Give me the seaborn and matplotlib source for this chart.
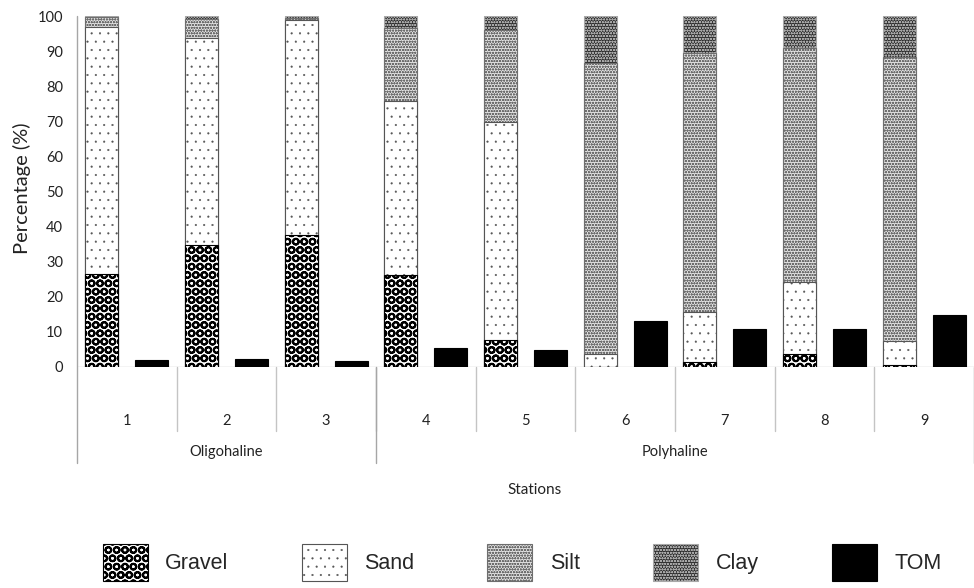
import matplotlib
matplotlib.use("Agg")
import matplotlib.pyplot as plt
import seaborn as sns
import pandas as pd
import numpy as np
from matplotlib.patches import Patch

# ---------------- data ----------------
stations = ["1", "2", "3", "4", "5", "6", "7", "8", "9"]
salinity = ["Oligohaline", "Oligohaline", "Oligohaline",
            "Polyhaline", "Polyhaline", "Polyhaline", "Polyhaline", "Polyhaline", "Polyhaline"]
gravel = [26.6, 34.7, 37.7, 26.1, 7.8, 0.0, 1.4, 3.6, 0.7]
sand = [70.2, 59.1, 61.3, 49.7, 62.0, 3.6, 14.3, 20.5, 6.6]
silt = [2.8, 5.3, 0.5, 20.9, 26.2, 83.1, 73.7, 66.7, 80.9]
clay = [0.4, 0.9, 0.5, 3.3, 4.0, 13.3, 10.6, 9.2, 11.8]
tom = [2.1, 2.4, 1.7, 5.5, 4.8, 13.0, 10.9, 10.9, 14.9]

sns.set_theme(style="white")
plt.rcParams['font.family'] = ['Lato', 'DejaVu Sans']

# fill / hatch / hatch colour / hatch width for each component
styles = {
    "Gravel": dict(fc="white", hatch="OO", ec="black", hlw=1.45),
    "Sand": dict(fc="white", hatch="..", ec="#555555", hlw=0.3),
    "Silt": dict(fc="#e2e2e2", hatch="oooooo", ec="#6e6e6e", hlw=0.6),
    "Clay": dict(fc="#2e2e2e", hatch="oooooo", ec="#a8a8a8", hlw=0.6),
    "TOM": dict(fc="black", hatch=None, ec="black", hlw=1.0),
}

fig = plt.figure(figsize=(9.74, 5.88), dpi=100)
ax = fig.add_axes([77 / 974, 1 - 367 / 588, 897 / 974, 351 / 588])

hue_order = ["Sediment", "TOM"]


def draw_layer(values, kind, name):
    st = styles[name]
    plt.rcParams['hatch.linewidth'] = st["hlw"]
    n_before = len(ax.patches)
    sns.barplot(x=stations, y=values, hue=[kind] * len(stations), hue_order=hue_order,
                palette={"Sediment": st["fc"], "TOM": st["fc"]}, saturation=1,
                dodge=True, width=1.0, gap=0.34, legend=False, errorbar=None,
                edgecolor=st["ec"], linewidth=0.8, ax=ax)
    for p in ax.patches[n_before:]:
        if st["hatch"]:
            p.set_hatch(st["hatch"])
        if hasattr(p, "set_hatch_linewidth"):
            p.set_hatch_linewidth(st["hlw"])


# stacked columns: draw cumulative totals from top layer down
cum = np.cumsum([gravel, sand, silt, clay], axis=0)
draw_layer(cum[3], "Sediment", "Clay")
draw_layer(cum[2], "Sediment", "Silt")
draw_layer(cum[1], "Sediment", "Sand")
draw_layer(cum[0], "Sediment", "Gravel")
draw_layer(tom, "TOM", "TOM")

ax.set_ylim(0, 100)
ax.set_xlim(-0.5, len(stations) - 0.5)
ax.set_yticks(range(0, 101, 10))
for s in ax.spines.values():
    s.set_visible(False)
ax.tick_params(axis="y", length=0, pad=10, labelsize=10.5, labelcolor="#222222")
ax.tick_params(axis="x", length=0, pad=34, labelsize=10.5, labelcolor="#222222")
ax.set_xlabel("")
ax.set_ylabel("")
fig.text(22 / 974, 1 - 188 / 588, "Percentage (%)", rotation=90, ha="center", va="center",
         fontsize=14.5, color="#222222")

# axis frame lines (Excel style multi-level category axis)
tr = ax.get_xaxis_transform()
ax.axhline(0, color="#c8c8c8", lw=1, zorder=0.5)
for i in range(len(stations) - 1):
    ax.plot([i + 0.5, i + 0.5], [0, -0.182], color="#c4c4c4", lw=1,
            transform=tr, clip_on=False)
bounds = [-0.5] + [i + 0.5 for i in range(len(salinity) - 1) if salinity[i] != salinity[i + 1]] + [len(salinity) - 0.5]
for b in bounds:
    ax.plot([b, b], [0 if b != -0.5 else 1.0, -0.2735], color="#a6a6a6", lw=1,
            transform=tr, clip_on=False)
for a, b in zip(bounds[:-1], bounds[1:]):
    ax.text((a + b) / 2, -0.242, salinity[int(a + 0.5)], transform=tr,
            ha="center", va="center", fontsize=10.5, color="#222222")

fig.text(535 / 974, 1 - 490 / 588, "Stations", ha="center", va="center",
         fontsize=11, color="#222222")

handles = []
for name in ["Gravel", "Sand", "Silt", "Clay", "TOM"]:
    st = styles[name]
    handles.append(Patch(facecolor=st["fc"], edgecolor=st["ec"], hatch=st["hatch"],
                         linewidth=0.8, label=name))
leg = fig.legend(handles=handles, loc="upper left", bbox_to_anchor=(102.7 / 974, 1 - 544 / 588),
                 ncol=5, frameon=False, borderpad=0, borderaxespad=0,
                 handlelength=2.09, handleheight=2.3, handletextpad=0.81,
                 columnspacing=3.4, prop={"family": "Liberation Sans", "size": 15.5})
for h, name in zip(leg.legend_handles, ["Gravel", "Sand", "Silt", "Clay", "TOM"]):
    if hasattr(h, "set_hatch_linewidth"):
        h.set_hatch_linewidth(styles[name]["hlw"])

fig.savefig("out.png", dpi=100)
